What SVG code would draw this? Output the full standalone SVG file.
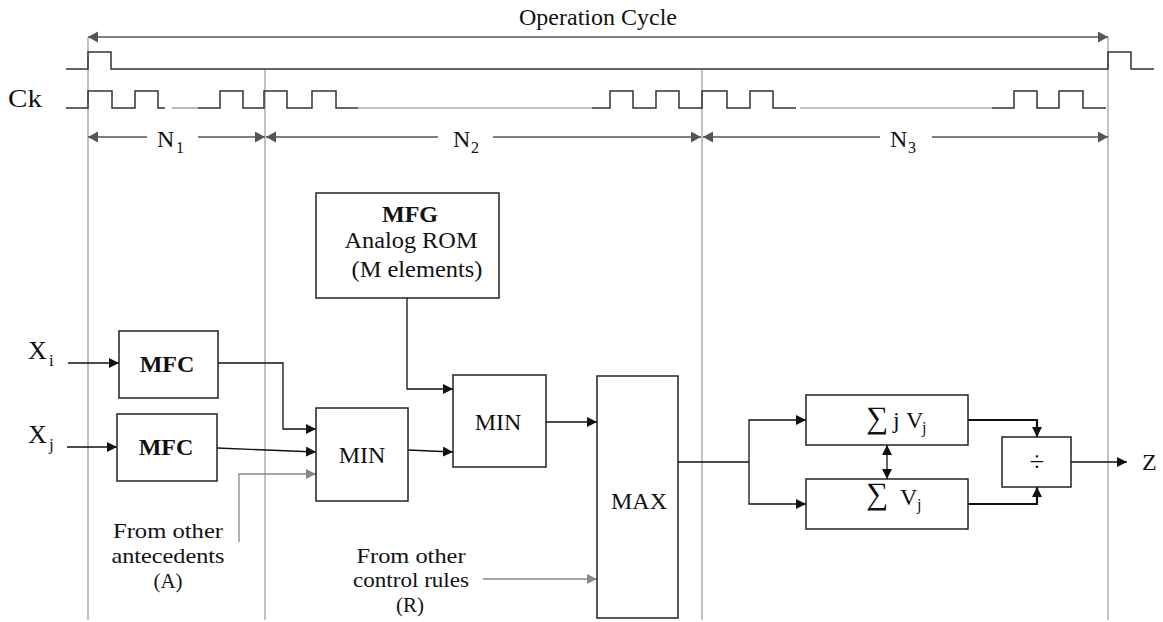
<svg xmlns="http://www.w3.org/2000/svg" width="1163" height="622" viewBox="0 0 1163 622">
<style>
text{font-family:"Liberation Serif","Times New Roman",serif;fill:#111}
.t24{font-size:24px}
.t20{font-size:21px}
.sub{font-size:16px}
.b{font-weight:bold}
.sig{font-size:31px}
.box{fill:#fff;stroke:#222;stroke-width:1.5}
.guide{fill:none;stroke:#999;stroke-width:1.2}
.dim{fill:none;stroke:#555;stroke-width:1.3}
.clk{fill:none;stroke:#333;stroke-width:1.5}
.clkl{fill:none;stroke:#888;stroke-width:1.2}
.wire{fill:none;stroke:#111;stroke-width:1.3}
.thick{fill:none;stroke:#111;stroke-width:2.2}
.grey{fill:none;stroke:#888;stroke-width:1.3}
</style>
<defs>
<marker id="ab" markerUnits="userSpaceOnUse" markerWidth="11" markerHeight="11" refX="10" refY="5" orient="auto-start-reverse"><path d="M0,0 L10,5 L0,10 z" fill="#111"/></marker>
<marker id="ag" markerUnits="userSpaceOnUse" markerWidth="11" markerHeight="11" refX="10" refY="5" orient="auto-start-reverse"><path d="M0,0 L10,5 L0,10 z" fill="#888"/></marker>
<marker id="ad" markerUnits="userSpaceOnUse" markerWidth="11" markerHeight="12" refX="10" refY="5.5" orient="auto-start-reverse"><path d="M0,0 L10,5.5 L0,11 z" fill="#555"/></marker>
</defs>

<g id="timing">
<line class="guide" x1="88" y1="37" x2="88" y2="620"/>
<line class="guide" x1="265" y1="69" x2="265" y2="620"/>
<line class="guide" x1="702" y1="69" x2="702" y2="620"/>
<line class="guide" x1="1108" y1="37" x2="1108" y2="620"/>
<line class="dim" x1="88" y1="37" x2="1108" y2="37" marker-start="url(#ad)" marker-end="url(#ad)"/>
<text class="t24" x="598" y="25" text-anchor="middle">Operation Cycle</text>
<path class="clk" d="M66,69 H88 V52 H111 V69 H1108 V52 H1131 V69 H1154"/>
<text x="8" y="107" style="font-size:26px" textLength="34" lengthAdjust="spacingAndGlyphs">Ck</text>
<path class="clk" d="M66,108 H88 V91 H112 V108 H135 V91 H158 V108 H165"/>
<path class="clkl" d="M172,108 H198"/>
<path class="clk" d="M198,108 H220 V91 H243 V108 H264 V91 H287 V108 H312 V91 H336 V108 H358"/>
<path class="clkl" d="M358,108 H592"/>
<path class="clk" d="M592,108 H610 V91 H633 V108 H656 V91 H679 V108 H702 V91 H727 V108 H750 V91 H773 V108 H796"/>
<path class="clkl" d="M800,108 H992"/>
<path class="clk" d="M992,108 H1014 V91 H1037 V108 H1059 V91 H1083 V108 H1106"/>
<line class="dim" x1="88" y1="137" x2="147" y2="137" marker-start="url(#ad)"/>
<line class="dim" x1="198" y1="137" x2="265" y2="137" marker-end="url(#ad)"/>
<line class="dim" x1="266" y1="137" x2="438" y2="137" marker-start="url(#ad)"/>
<line class="dim" x1="493" y1="137" x2="701" y2="137" marker-end="url(#ad)"/>
<line class="dim" x1="703" y1="137" x2="880" y2="137" marker-start="url(#ad)"/>
<line class="dim" x1="932" y1="137" x2="1108" y2="137" marker-end="url(#ad)"/>
<text class="t24" x="157" y="147">N</text><text class="sub" x="176" y="153">1</text>
<text class="t24" x="453" y="147">N</text><text class="sub" x="471" y="153">2</text>
<text class="t24" x="890" y="147">N</text><text class="sub" x="908" y="153">3</text>
</g>

<g id="connectors">
<line class="wire" x1="68" y1="363" x2="119" y2="363" marker-end="url(#ab)"/>
<line class="wire" x1="67" y1="447" x2="117" y2="447" marker-end="url(#ab)"/>
<path class="wire" d="M218,363 H283 V429 H316" marker-end="url(#ab)"/>
<path class="wire" d="M217,448 L316,452" marker-end="url(#ab)"/>
<path class="grey" d="M239,542 V474 H316" marker-end="url(#ag)"/>
<path class="wire" d="M407,298 V389 H453" marker-end="url(#ab)"/>
<path class="wire" d="M408,450 L453,452" marker-end="url(#ab)"/>
<path class="wire" d="M546,422 H597" marker-end="url(#ab)"/>
<path class="grey" d="M483,579 H597" marker-end="url(#ag)"/>
<path class="wire" d="M678,462 H749"/>
<path class="wire" d="M749,462 V420 H806" marker-end="url(#ab)"/>
<path class="wire" d="M749,462 V504 H806" marker-end="url(#ab)"/>
<path class="thick" d="M968,420 H1037 V437" marker-end="url(#ab)"/>
<path class="thick" d="M968,504 H1037 V487" marker-end="url(#ab)"/>
<line class="wire" x1="887" y1="445" x2="887" y2="479" marker-start="url(#ab)" marker-end="url(#ab)"/>
<line class="wire" x1="1071" y1="462" x2="1127" y2="462" marker-end="url(#ab)"/>
</g>

<g id="inputs">
<text x="28" y="359" style="font-size:26px">X</text><text x="49" y="366" style="font-size:17px">i</text>
<text x="28" y="443" style="font-size:26px">X</text><text x="49" y="450" style="font-size:17px">j</text>
</g>

<g id="mfc1"><rect class="box" x="119" y="331" width="99" height="67"/><text class="t24 b" x="167" y="372" text-anchor="middle">MFC</text></g>
<g id="mfc2"><rect class="box" x="117" y="414" width="100" height="67"/><text class="t24 b" x="166" y="455" text-anchor="middle">MFC</text></g>
<g id="mfg"><rect class="box" x="316" y="193" width="183" height="105"/>
<text class="t24 b" x="410" y="222" text-anchor="middle">MFG</text>
<text x="411" y="248" text-anchor="middle" style="font-size:23px" textLength="133" lengthAdjust="spacingAndGlyphs">Analog ROM</text>
<text x="417" y="277" text-anchor="middle" style="font-size:23px" textLength="131" lengthAdjust="spacingAndGlyphs">(M elements)</text></g>
<g id="min1"><rect class="box" x="316" y="408" width="92" height="93"/><text class="t24" x="362" y="463" text-anchor="middle">MIN</text></g>
<g id="min2"><rect class="box" x="453" y="375" width="93" height="92"/><text class="t24" x="498" y="430" text-anchor="middle">MIN</text></g>
<g id="max"><rect class="box" x="597" y="376" width="81" height="242"/><text class="t24" x="639" y="509" text-anchor="middle">MAX</text></g>
<g id="sumjv"><rect class="box" x="806" y="395" width="162" height="50"/>
<text class="sig" x="866" y="428">∑</text><text class="t24" x="893" y="428">j</text><text class="t24" x="906" y="428">V</text><text class="sub" x="922" y="433">j</text></g>
<g id="sumv"><rect class="box" x="806" y="479" width="162" height="50"/>
<text class="sig" x="866" y="504">∑</text><text class="t24" x="900" y="505">V</text><text class="sub" x="917" y="510">j</text></g>
<g id="div"><rect class="box" x="1002" y="437" width="69" height="50"/><text x="1037" y="471" text-anchor="middle" style="font-size:27px">÷</text></g>
<g id="z"><text class="t24" x="1142" y="470">Z</text></g>
<g id="from-a">
<text class="t20" x="168" y="538" text-anchor="middle" textLength="110" lengthAdjust="spacingAndGlyphs">From other</text>
<text class="t20" x="168" y="563" text-anchor="middle" textLength="113" lengthAdjust="spacingAndGlyphs">antecedents</text>
<text class="t20" x="168" y="588" text-anchor="middle">(A)</text></g>
<g id="from-r">
<text class="t20" x="411" y="563" text-anchor="middle" textLength="109" lengthAdjust="spacingAndGlyphs">From other</text>
<text class="t20" x="411" y="587" text-anchor="middle" textLength="116" lengthAdjust="spacingAndGlyphs">control rules</text>
<text class="t20" x="410" y="612" text-anchor="middle">(R)</text></g>
</svg>
